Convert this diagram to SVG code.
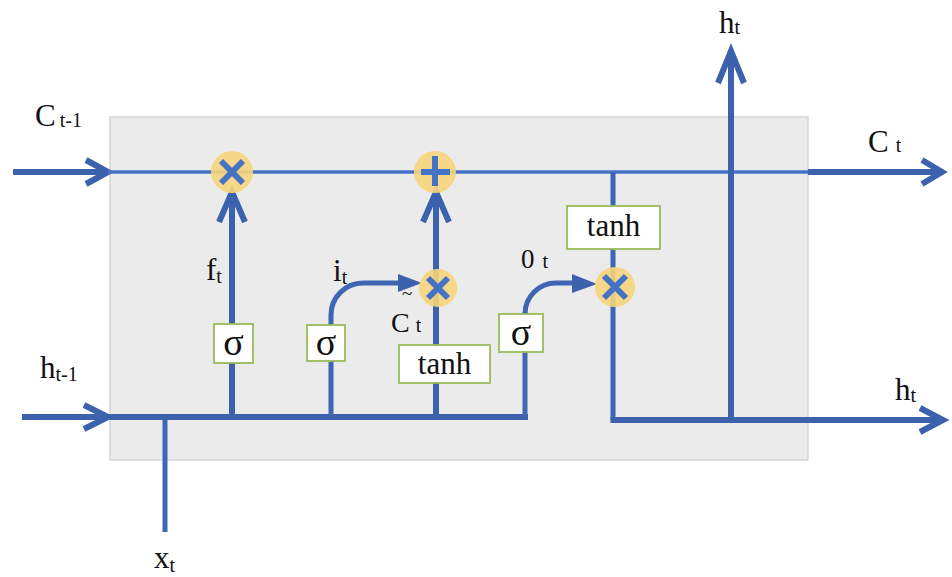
<svg xmlns="http://www.w3.org/2000/svg" width="952" height="577" viewBox="0 0 952 577">
<style>
.bg{fill:#fff}
.cell{fill:#ebebeb;stroke:#d6d6d6;stroke-width:1.5}
.ln{fill:none;stroke:#3d62ad;stroke-width:6;stroke-linecap:butt}
.thin{fill:none;stroke:#4472c4;stroke-width:3.5}
.mid{fill:none;stroke:#3f66b4;stroke-width:5}
.chev{fill:none;stroke:#3d62ad;stroke-width:6;stroke-linejoin:miter;stroke-linecap:butt}
.tri{fill:#3d62ad}
.op{fill:#f6d57c;fill-opacity:0.9}
.mark{stroke:#4472c4;stroke-width:6;fill:none}
.box{fill:#fff;stroke:#9bbb59;stroke-width:1.8}
</style>
<rect class="bg" x="0" y="0" width="952" height="577"/>
<rect class="cell" x="110" y="117" width="698" height="343"/>

<g id="connectors">
  <line class="ln" x1="13" y1="172" x2="108" y2="172"/>
  <polyline class="chev" points="86,160 108,172 86,184"/>
  <line class="thin" x1="108" y1="172" x2="810" y2="172"/>
  <line class="ln" x1="808" y1="172" x2="941" y2="172"/>
  <polyline class="chev" points="922,160 942,172 922,184"/>
  <line class="ln" x1="22" y1="417" x2="108" y2="417"/>
  <polyline class="chev" points="84,405 108,417 84,429"/>
  <line class="ln" x1="108" y1="417" x2="528" y2="417"/>
  <line class="mid" x1="165" y1="420" x2="165" y2="532"/>
  <line class="ln" x1="232" y1="417" x2="232" y2="194"/>
  <polyline class="chev" points="219,222 232,192 245,222"/>
  <path class="mid" d="M331,417 V315 A32,32 0 0 1 363,283 H402"/>
  <polygon class="tri" points="398,274 422,283 398,292"/>
  <line class="ln" x1="436" y1="417" x2="436" y2="194"/>
  <polyline class="chev" points="423,222 436,192 449,222"/>
  <line class="mid" x1="525" y1="417" x2="525" y2="312"/>
  <path class="mid" d="M525,314 A31,31 0 0 1 556,283 H576"/>
  <polygon class="tri" points="572,274 597,284 572,293"/>
  <path class="mid" d="M613,172 V420"/>
  <line class="ln" x1="610.5" y1="420" x2="940" y2="420"/>
  <polyline class="chev" points="920,408 943,420 920,432"/>
  <line class="ln" x1="731" y1="420" x2="731" y2="54"/>
  <polyline class="chev" points="718,83 731,51 744,83"/>
</g>

<g id="mul-forget">
  <circle class="op" cx="232" cy="172" r="21"/>
  <path class="mark" d="M221,161 L243,183 M243,161 L221,183"/>
</g>
<g id="add-cell">
  <circle class="op" cx="435" cy="172" r="21"/>
  <path class="mark" d="M435,156 V186 M421,172 H450"/>
</g>
<g id="mul-input">
  <circle class="op" cx="438" cy="288" r="19"/>
  <path class="mark" d="M428,278 L448,298 M448,278 L428,298"/>
</g>
<g id="mul-output">
  <circle class="op" cx="615" cy="287" r="20"/>
  <path class="mark" d="M604,276 L626,298 M626,276 L604,298"/>
</g>

<g font-family="Liberation Serif, DejaVu Serif, serif" fill="#111">
<g id="sigma-forget">
  <rect class="box" x="214" y="324" width="39" height="39"/>
  <text x="233.5" y="355" font-size="38" text-anchor="middle">σ</text>
</g>
<g id="sigma-input">
  <rect class="box" x="307" y="325" width="38" height="36"/>
  <text x="326" y="355" font-size="38" text-anchor="middle">σ</text>
</g>
<g id="tanh-candidate">
  <rect class="box" x="399" y="345" width="91" height="38"/>
  <text x="444.5" y="374" font-size="31" text-anchor="middle">tanh</text>
</g>
<g id="sigma-output">
  <rect class="box" x="499" y="314" width="44" height="38"/>
  <text x="521" y="345" font-size="38" text-anchor="middle">σ</text>
</g>
<g id="tanh-output">
  <rect class="box" x="567" y="206" width="93" height="43"/>
  <text x="613.5" y="236" font-size="31" text-anchor="middle">tanh</text>
</g>

<g id="labels" font-size="31">
  <text x="35" y="126">C<tspan font-size="20" dx="4" dy="1">t-1</tspan></text>
  <text x="868" y="152">C<tspan font-size="20" dx="7">t</tspan></text>
  <text x="719" y="33">h<tspan font-size="20" dy="1">t</tspan></text>
  <text x="40" y="378">h<tspan font-size="20" dy="3">t-1</tspan></text>
  <text x="895" y="400">h<tspan font-size="20" dy="2">t</tspan></text>
  <text x="154" y="568">x<tspan font-size="20" dy="4">t</tspan></text>
  <text x="206" y="280">f<tspan font-size="20" dy="3">t</tspan></text>
  <text x="333" y="281">i<tspan font-size="20" dy="3">t</tspan></text>
  <text x="402" y="300" font-size="19">~</text>
  <text x="391" y="332" font-size="28">C<tspan font-size="20" dx="6">t</tspan></text>
  <text x="521" y="268" font-size="27">0<tspan font-size="20" dx="8">t</tspan></text>
</g>
</g>
</svg>
